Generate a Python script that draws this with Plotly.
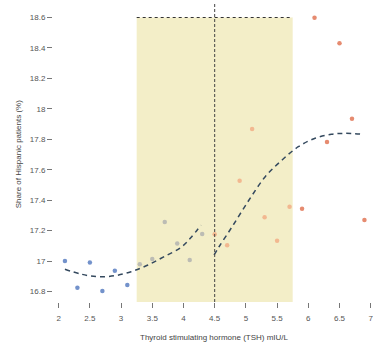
import plotly.graph_objects as go

# ---- data ----
below_x = [2.1, 2.3, 2.5, 2.7, 2.9, 3.1]
below_y = [17.00, 16.825, 16.99, 16.803, 16.937, 16.843]
near_below_x = [3.3, 3.5, 3.7, 3.9, 4.1, 4.3]
near_below_y = [16.979, 17.014, 17.257, 17.115, 17.007, 17.178]
near_above_x = [4.5, 4.7, 4.9, 5.1, 5.3, 5.5, 5.7]
near_above_y = [17.176, 17.104, 17.528, 17.868, 17.288, 17.134, 17.357]
above_x = [5.9, 6.1, 6.3, 6.5, 6.7, 6.9]
above_y = [17.343, 18.599, 17.782, 18.431, 17.935, 17.270]

left_fit_x = [2.10, 2.37, 2.63, 2.90, 3.16, 3.43, 3.69, 3.96, 4.12, 4.28]
left_fit_y = [16.946, 16.913, 16.897, 16.904, 16.930, 16.974, 17.029, 17.090, 17.155, 17.236]
right_fit_x = [4.49, 4.57, 4.78, 5.05, 5.31, 5.58, 5.84, 6.11, 6.37, 6.59, 6.89]
right_fit_y = [17.04, 17.094, 17.226, 17.401, 17.554, 17.664, 17.751, 17.807, 17.833, 17.839, 17.833]

cutoff = 4.5
band = [3.25, 5.75]
band_top = 18.6

x_ticks = [2, 2.5, 3, 3.5, 4, 4.5, 5, 5.5, 6, 6.5, 7]
x_labels = ["2", "2.5", "3", "3.5", "4", "4.5", "5", "5.5", "6", "6.5", "7"]
y_ticks = [16.8, 17.0, 17.2, 17.4, 17.6, 17.8, 18.0, 18.2, 18.4, 18.6]
y_labels = ["16.8", "17", "17.2", "17.4", "17.6", "17.8", "18", "18.2", "18.4", "18.6"]

fig = go.Figure()

groups = [
    (below_x, below_y, "#7392cb"),
    (near_below_x, near_below_y, "#bcbcb4"),
    (near_above_x, near_above_y, "#f2b890"),
    (above_x, above_y, "#e68b70"),
]
for gx, gy, col in groups:
    fig.add_trace(go.Scatter(x=gx, y=gy, mode="markers",
                             marker=dict(size=4.5, color=col, line=dict(width=0)),
                             showlegend=False, hoverinfo="skip"))

for fx, fy in [(left_fit_x, left_fit_y), (right_fit_x, right_fit_y)]:
    fig.add_trace(go.Scatter(x=fx, y=fy, mode="lines",
                             line=dict(color="#34495e", width=1.5, dash="5px,4px", shape="spline"),
                             showlegend=False, hoverinfo="skip"))

# shaded band
fig.add_shape(type="rect", xref="x", yref="y", x0=band[0], x1=band[1],
              y0=16.731, y1=band_top, fillcolor="#f3eec8", line=dict(width=0), layer="below")
fig.add_shape(type="line", xref="x", yref="y", x0=band[0], x1=band[1],
              y0=band_top, y1=band_top, line=dict(color="#333333", width=1.2, dash="dot"))
fig.add_shape(type="line", xref="x", yref="paper", x0=cutoff, x1=cutoff,
              y0=0, y1=1.01, line=dict(color="#444444", width=1, dash="3px,2px"))

fig.update_layout(
    width=373, height=346,
    margin=dict(l=53, r=0, t=6, b=44),
    paper_bgcolor="white", plot_bgcolor="white",
    font=dict(family="Liberation Sans, Arial, sans-serif", size=8, color="#555555"),
    xaxis=dict(range=[1.909, 7.005], showgrid=False, zeroline=False, showline=False,
               tickmode="array", tickvals=x_ticks, ticktext=x_labels,
               ticks="outside", ticklen=5, tickwidth=1, tickcolor="#777777",
               ticklabelstandoff=3, ticklabeloverflow="allow",
               tickfont=dict(size=8, color="#555555")),
    yaxis=dict(range=[16.731, 18.6756], showgrid=False, zeroline=False, showline=False,
               tickmode="array", tickvals=y_ticks, ticktext=y_labels,
               ticks="outside", ticklen=5, tickwidth=1, tickcolor="#777777",
               tickfont=dict(size=8, color="#555555")),
    annotations=[
        dict(text="Thyroid stimulating hormone (TSH) mIU/L", xref="paper", yref="paper",
             x=(216 - 53) / 320, y=-(337 - 302) / 296, showarrow=False,
             xanchor="center", yanchor="middle", font=dict(size=8, color="#444444")),
        dict(text="Share of Hispanic patients (%)", xref="paper", yref="paper",
             x=-(53 - 18) / 320, y=0.5, showarrow=False, textangle=-90,
             xanchor="center", yanchor="middle", font=dict(size=8, color="#444444")),
    ],
)

fig.write_html("out.html")
